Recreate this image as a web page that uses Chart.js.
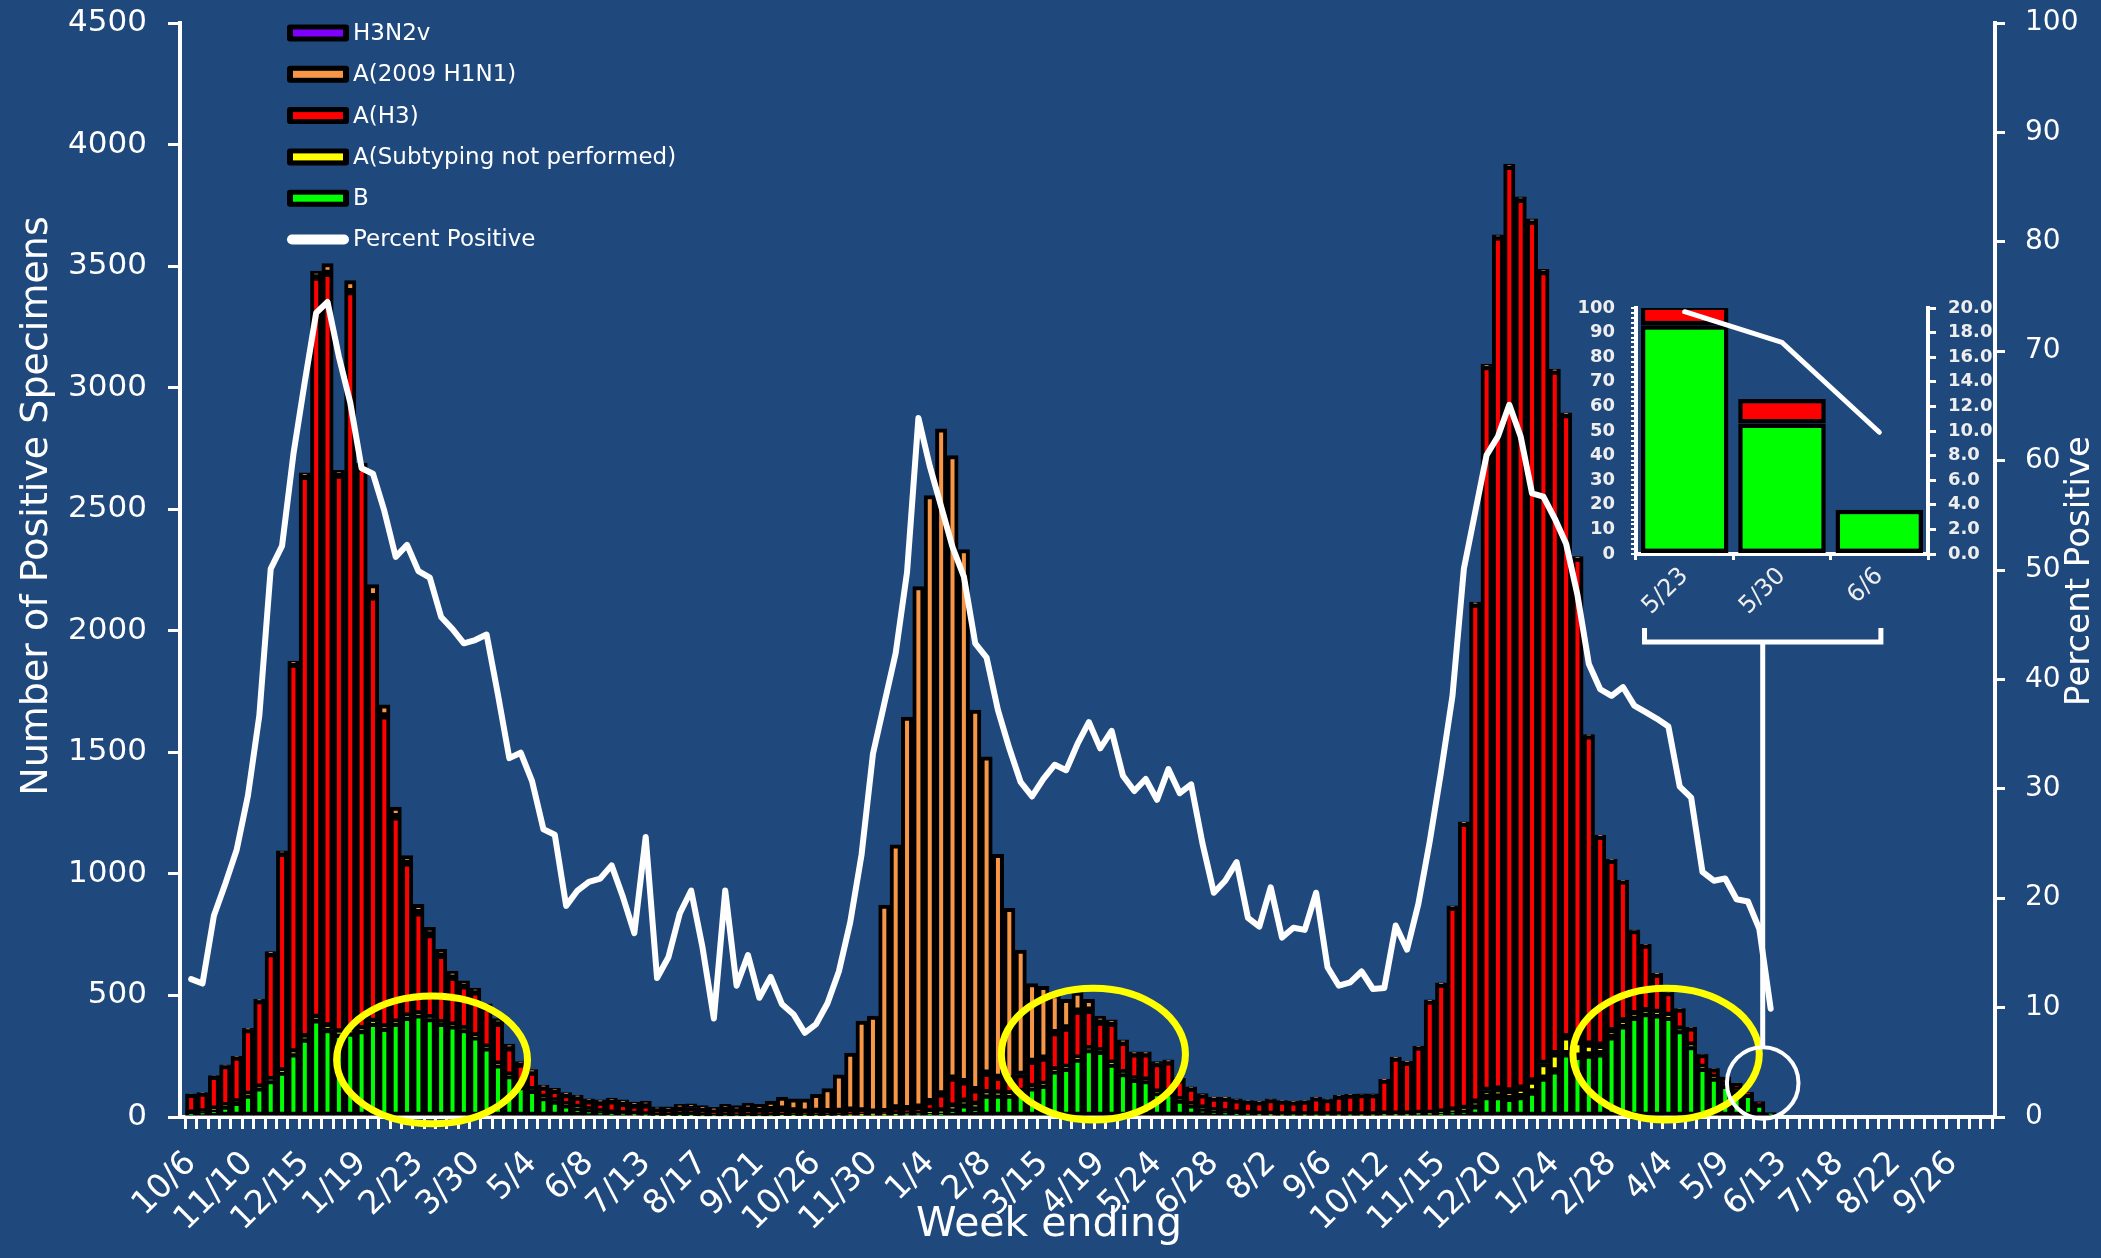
<!DOCTYPE html>
<html>
<head>
<meta charset="utf-8">
<title>Influenza Positive Tests Reported by Public Health Laboratories</title>
<script src="https://cdn.jsdelivr.net/npm/chart.js@4.4.1/dist/chart.umd.min.js"></script>
<style>
  html, body { margin: 0; padding: 0; background: #1f497d; }
  #wrap { position: relative; width: 2101px; height: 1258px; overflow: hidden; }
  #mainChart { position: absolute; left: 0; top: 0; }
  #insetChart { position: absolute; left: 1560px; top: 290px; }
</style>
</head>
<body>
<div id="wrap">
  <canvas id="mainChart" width="2101" height="1258"></canvas>
  <canvas id="insetChart" width="440" height="344"></canvas>
</div>
<script>
// week-ending labels shown every 5th week, starting 10/6
const weekLabels = ['10/6','11/10','12/15','1/19','2/23','3/30','5/4','6/8','7/13','8/17','9/21',
  '10/26','11/30','1/4','2/8','3/15','4/19','5/24','6/28','8/2','9/6',
  '10/12','11/15','12/20','1/24','2/28','4/4','5/9','6/13','7/18','8/22','9/26'];

// weekly positive specimens by type/subtype (week 0 = 10/6)
const fluB = [15,20,30,45,60,90,120,150,185,260,
  320,400,360,340,345,355,385,365,385,410,
  420,405,385,375,360,330,285,215,170,125,
  110,80,65,50,38,28,20,15,12,10,
  8,6,6,5,5,4,4,4,4,4,
  4,4,5,5,5,5,6,6,8,8,
  8,8,8,10,10,15,15,30,50,40,
  90,90,90,100,120,130,190,200,238,277,
  270,218,179,155,150,100,100,70,50,35,
  25,20,15,12,10,10,8,8,8,8,
  8,8,8,8,8,10,10,10,12,12,
  15,20,25,46,84,84,77,84,103,160,
  190,260,250,255,260,330,375,410,425,420,
  410,355,290,200,160,130,110,93,53,18];

const fluANotSubtyped = [1,1,2,2,2,3,3,4,5,8,
  10,10,15,10,10,8,8,6,5,5,
  4,4,3,3,3,3,2,2,2,2,
  2,1,1,1,1,1,1,1,1,1,
  1,1,1,1,1,1,1,1,1,1,
  1,1,1,1,1,1,1,2,2,3,
  3,3,4,4,5,8,10,15,15,12,
  10,8,6,5,5,4,4,4,4,4,
  3,3,3,2,2,2,2,1,1,1,
  1,1,1,1,1,1,1,1,1,1,
  1,1,1,1,1,2,2,2,3,3,
  5,8,10,15,25,30,30,35,45,60,
  70,70,60,45,35,25,20,15,12,10,
  8,6,5,4,3,2,2,0,0,0];

const fluH3 = [77,77,135,165,184,267,356,518,895,1595,
  2305,3045,3095,2290,3040,2307,1747,1279,845,630,
  416,341,277,197,177,182,163,168,113,91,
  73,42,44,41,43,38,40,50,43,38,
  41,25,23,31,33,27,20,27,22,27,
  22,25,26,19,14,17,15,15,18,14,
  9,11,25,20,25,40,70,115,80,60,
  80,65,60,70,104,108,153,162,193,158,
  117,164,125,103,108,118,125,82,68,55,
  52,57,55,52,51,61,56,53,56,70,
  63,77,81,83,83,140,230,214,273,462,
  527,835,1173,2049,2978,3505,3803,3656,3536,3257,
  2808,2559,1989,1268,860,701,576,342,270,158,
  94,83,72,53,35,32,27,8,10,0];

const fluH1N1 = [2,2,3,3,4,5,6,8,10,12,
  15,25,40,20,45,20,50,45,40,30,
  35,30,25,25,20,15,15,20,15,10,
  10,8,8,8,8,8,10,12,15,12,
  15,10,12,15,15,15,15,20,20,25,
  25,35,50,50,55,70,95,150,235,370,
  395,850,1083,1611,2142,2493,2736,2561,2189,1562,
  1302,917,702,512,320,295,157,118,79,45,
  25,15,10,8,8,8,8,6,5,5,
  4,4,4,3,3,3,3,3,3,3,
  3,3,3,3,3,3,4,4,4,5,
  5,6,6,8,10,10,10,10,10,10,
  8,8,6,5,5,4,4,3,3,3,
  2,2,2,2,1,1,1,0,0,0];

const fluH3N2v = [];

// percent of specimens testing positive
const pctPositive = [12.6,12.2,18.4,21.3,24.4,29.4,36.7,50.1,52.2,60.6,
  67.2,73.5,74.5,69.5,65.3,59.3,58.8,55.4,51.2,52.3,
  49.9,49.3,45.7,44.6,43.3,43.6,44.1,38.6,32.8,33.3,
  30.7,26.3,25.8,19.3,20.7,21.5,21.8,23.0,20.1,16.8,
  25.6,12.7,14.6,18.6,20.7,15.5,9.0,20.7,12.0,14.8,
  10.9,12.8,10.3,9.4,7.7,8.5,10.4,13.3,17.8,24.0,
  33.2,37.8,42.4,49.8,63.9,59.5,55.8,52.1,49.4,43.3,
  42.0,37.2,33.7,30.6,29.3,30.9,32.2,31.7,34.1,36.1,
  33.7,35.3,31.2,29.8,30.9,29.0,31.8,29.6,30.4,25.0,
  20.5,21.6,23.3,18.2,17.4,21.0,16.4,17.3,17.1,20.5,
  13.7,12.0,12.3,13.3,11.7,11.8,17.5,15.3,19.5,25.2,
  31.6,38.5,50.1,55.3,60.5,62.2,65.1,62.2,57.0,56.7,
  54.7,52.4,47.7,41.4,39.1,38.5,39.3,37.6,37.0,36.4,
  35.7,30.2,29.2,22.4,21.6,21.8,19.9,19.7,17.2,9.9];

// last three weeks, blown up in the inset
const insetWeeks = ['5/23', '5/30', '6/6'];
const insetFrom = 137;

Chart.defaults.font.family = "'DejaVu Sans'";
Chart.defaults.color = '#ffffff';

const toPoints = arr => arr.map((v, i) => ({x: i, y: v}));

// fixed axis box sizes; top padding is set by layout.padding instead of the labels
const fixWidth = w => s => { s.width = w; s.paddingTop = 0; };
const fixHeight = h => s => { s.height = h; };

// highlighted areas, in week / specimen units
const highlights = [
  {week: 21.2, count: 235, halfWeeks: 8.4, halfCount: 263},
  {week: 79.4, count: 259, halfWeeks: 8.1, halfCount: 271},
  {week: 129.8, count: 259, halfWeeks: 8.2, halfCount: 271}
];
const zoomMark = {week: 138.3, count: 140, radiusWeeks: 3.15};
const bracket = {from: 127.9, to: 148.7, count: 1954, tip: 2011};

const markers = {
  id: 'markers',
  afterDatasetsDraw(chart) {
    const {ctx, scales: {x, y}} = chart;
    ctx.save();
    ctx.strokeStyle = '#ffff00';
    ctx.lineWidth = 7;
    highlights.forEach(h => {
      const cx = x.getPixelForValue(h.week);
      const cy = y.getPixelForValue(h.count);
      const rx = x.getPixelForValue(h.week + h.halfWeeks) - cx;
      const ry = cy - y.getPixelForValue(h.count + h.halfCount);
      ctx.beginPath();
      ctx.ellipse(cx, cy, rx, ry, 0, 0, Math.PI * 2);
      ctx.stroke();
    });
    // circle round the last weeks and the bracket up to the inset
    const mx = x.getPixelForValue(zoomMark.week);
    const my = y.getPixelForValue(zoomMark.count);
    const r = x.getPixelForValue(zoomMark.week + zoomMark.radiusWeeks) - mx;
    ctx.strokeStyle = '#ffffff';
    ctx.lineWidth = 4;
    ctx.beginPath();
    ctx.arc(mx, my, r, 0, Math.PI * 2);
    ctx.stroke();
    const by = y.getPixelForValue(bracket.count);
    const ty = y.getPixelForValue(bracket.tip);
    const bx0 = x.getPixelForValue(bracket.from);
    const bx1 = x.getPixelForValue(bracket.to);
    ctx.lineWidth = 5;
    ctx.beginPath();
    ctx.moveTo(bx0, ty); ctx.lineTo(bx0, by); ctx.lineTo(bx1, by); ctx.lineTo(bx1, ty);
    ctx.moveTo(mx, by); ctx.lineTo(mx, my - r);
    ctx.stroke();
    ctx.restore();
  }
};

const keyBox = {
  id: 'keyBox',
  afterDraw(chart) {
    const ctx = chart.ctx;
    const sets = chart.data.datasets;
    ctx.save();
    ctx.font = "23px 'DejaVu Sans'";
    ctx.textBaseline = 'middle';
    [4, 3, 2, 1, 0, 5].forEach((di, row) => {
      const ds = sets[di];
      const cy = 33 + row * 41.3;
      ctx.beginPath();
      if (ds.type === 'line') {
        ctx.fillStyle = '#ffffff';
        ctx.roundRect(287, cy - 5, 62, 10, 5);
        ctx.fill();
      } else {
        ctx.fillStyle = '#000000';
        ctx.roundRect(287, cy - 8.5, 62, 17, 3);
        ctx.fill();
        ctx.fillStyle = ds.backgroundColor;
        ctx.fillRect(293, cy - 3.5, 50, 7);
      }
      ctx.fillStyle = '#ffffff';
      ctx.fillText(ds.label, 353, cy + 1);
    });
    ctx.restore();
  }
};

const axisTitles = {
  id: 'axisTitles',
  afterDraw(chart) {
    const ctx = chart.ctx;
    ctx.save();
    ctx.fillStyle = '#ffffff';
    ctx.textAlign = 'center';
    ctx.textBaseline = 'middle';
    ctx.font = "41px 'DejaVu Sans'";
    ctx.fillText('Week ending', 1049, 1225);
    ctx.save();
    ctx.translate(37, 506);
    ctx.rotate(-Math.PI / 2);
    ctx.font = "38px 'DejaVu Sans'";
    ctx.fillText('Number of Positive Specimens', 0, 0);
    ctx.restore();
    ctx.translate(2080, 571);
    ctx.rotate(-Math.PI / 2);
    ctx.font = "34px 'DejaVu Sans'";
    ctx.fillText('Percent Positive', 0, 0);
    ctx.restore();
  }
};

const barStyle = {borderColor: '#000000', borderWidth: 4, borderSkipped: false,
  barThickness: 'flex', barPercentage: 1, categoryPercentage: 1, order: 1};

new Chart(document.getElementById('mainChart'), {
  type: 'bar',
  data: {
    datasets: [
      {label: 'B', data: toPoints(fluB), backgroundColor: '#00ff00', ...barStyle},
      {label: 'A(Subtyping not performed)', data: toPoints(fluANotSubtyped), backgroundColor: '#ffff00', ...barStyle},
      {label: 'A(H3)', data: toPoints(fluH3), backgroundColor: '#ff0000', ...barStyle},
      {label: 'A(2009 H1N1)', data: toPoints(fluH1N1), backgroundColor: '#f79646', ...barStyle},
      {label: 'H3N2v', data: toPoints(fluH3N2v), backgroundColor: '#7f00ff', ...barStyle},
      {type: 'line', label: 'Percent Positive', data: toPoints(pctPositive), yAxisID: 'y1',
        borderColor: '#ffffff', borderWidth: 6, pointRadius: 0, tension: 0,
        borderJoinStyle: 'round', borderCapStyle: 'round', order: 0}
    ]
  },
  options: {
    responsive: false,
    animation: false,
    devicePixelRatio: 1,
    events: [],
    layout: {padding: {top: 23}},
    plugins: {legend: {display: false}, tooltip: {enabled: false}},
    scales: {
      x: {
        type: 'linear', min: -0.48, max: 158.24, stacked: true,
        grid: {drawOnChartArea: false, color: '#ffffff', lineWidth: 3, tickLength: 12},
        border: {color: '#ffffff', width: 4},
        ticks: {
          stepSize: 1, autoSkip: false, includeBounds: false,
          minRotation: 45, maxRotation: 45, padding: 15,
          font: {size: 33},
          callback: v => {
            const i = v / 5;
            return Number.isInteger(i) && i < weekLabels.length ? weekLabels[i] : '';
          }
        },
        afterFit: fixHeight(141)
      },
      y: {
        stacked: true, min: 0, max: 4500,
        grid: {drawOnChartArea: false, color: '#ffffff', lineWidth: 3, tickLength: 12},
        border: {color: '#ffffff', width: 4},
        ticks: {stepSize: 500, padding: 21, font: {size: 31}, callback: v => String(v)},
        afterFit: fixWidth(180)
      },
      y1: {
        position: 'right', min: 0, max: 100,
        grid: {drawOnChartArea: false, color: '#ffffff', lineWidth: 3, tickLength: 10},
        border: {color: '#ffffff', width: 4},
        ticks: {stepSize: 10, padding: 20, font: {size: 28}, callback: v => String(v)},
        afterFit: fixWidth(106)
      }
    }
  },
  plugins: [markers, keyBox, axisTitles]
});

// inset: the last three weeks on their own scales
const insetBar = {borderColor: '#000000', borderWidth: 4.5, borderSkipped: false,
  barPercentage: 0.9, categoryPercentage: 1, order: 1};

new Chart(document.getElementById('insetChart'), {
  type: 'bar',
  data: {
    labels: insetWeeks,
    datasets: [
      {label: 'B', data: fluB.slice(insetFrom), backgroundColor: '#00ff00', ...insetBar},
      {label: 'A(H3)', data: fluH3.slice(insetFrom), backgroundColor: '#ff0000', ...insetBar},
      {type: 'line', label: 'Percent Positive', data: pctPositive.slice(insetFrom), yAxisID: 'y1',
        borderColor: '#ffffff', borderWidth: 5, pointRadius: 0, tension: 0,
        borderCapStyle: 'round', order: 0}
    ]
  },
  options: {
    responsive: false,
    animation: false,
    devicePixelRatio: 1,
    events: [],
    layout: {padding: {top: 18}},
    plugins: {legend: {display: false}, tooltip: {enabled: false}},
    scales: {
      x: {
        stacked: true,
        grid: {offset: true, drawOnChartArea: false, color: '#ffffff', lineWidth: 3, tickLength: 6},
        border: {color: '#ffffff', width: 4},
        ticks: {color: '#eeeeee', font: {size: 24}, minRotation: 45, maxRotation: 45, padding: 2},
        afterFit: fixHeight(80)
      },
      y: {
        stacked: true, min: 0, max: 100,
        grid: {drawOnChartArea: false, color: '#ffffff', lineWidth: 2, tickLength: 5},
        border: {color: '#ffffff', width: 4},
        ticks: {stepSize: 2, autoSkip: false, padding: 16, color: '#eeeeee',
          font: {size: 18, weight: 'bold'}, callback: v => (v % 10 === 0 ? String(v) : '')},
        afterFit: fixWidth(76)
      },
      y1: {
        position: 'right', min: 0, max: 20,
        grid: {drawOnChartArea: false, color: '#ffffff', lineWidth: 3, tickLength: 8},
        border: {color: '#ffffff', width: 4},
        ticks: {stepSize: 2, autoSkip: false, padding: 12, color: '#eeeeee',
          font: {size: 18, weight: 'bold'}, callback: v => v.toFixed(1)},
        afterFit: fixWidth(72)
      }
    }
  }
});
</script>
</body>
</html>
